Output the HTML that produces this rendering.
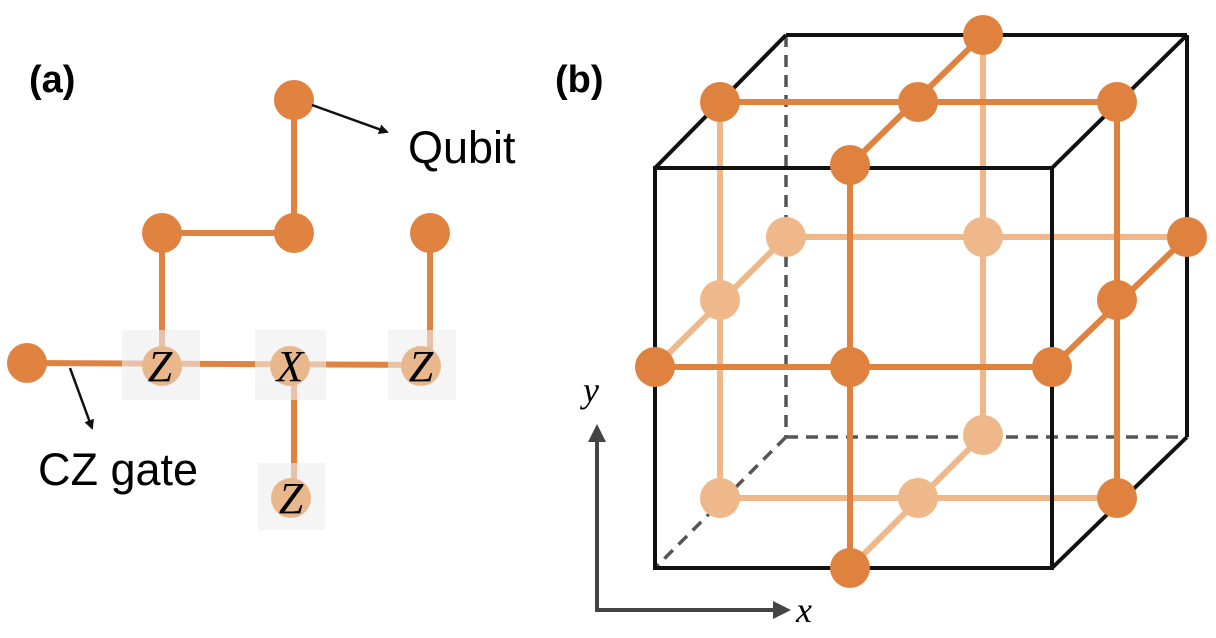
<!DOCTYPE html>
<html><head><meta charset="utf-8"><style>
html,body{margin:0;padding:0;background:#fff;}
svg{display:block;}
text{font-family:"Liberation Sans",sans-serif;}
.m{font-family:"Liberation Serif",serif;font-style:italic;}
</style></head><body>
<svg width="1216" height="638" viewBox="0 0 1216 638">
<defs>
<marker id="ah" markerWidth="10" markerHeight="10" refX="8" refY="5" orient="auto" markerUnits="userSpaceOnUse"><path d="M0,0 L10,5 L0,10 z" fill="#111"/></marker>
<marker id="ag" markerWidth="18" markerHeight="18" refX="14" refY="9" orient="auto" markerUnits="userSpaceOnUse"><path d="M0,0 L18,9 L0,18 z" fill="#444"/></marker>
</defs>
<g>
<text x="29" y="92" font-size="38" font-weight="bold">(a)</text>
<g stroke="#E08240" stroke-width="6" fill="none">
<line x1="294" y1="100" x2="294" y2="233"/>
<line x1="162" y1="233" x2="294" y2="233"/>
<line x1="162" y1="233" x2="162" y2="365"/>
<line x1="430" y1="233" x2="430" y2="365"/>
<line x1="27" y1="363" x2="427" y2="365"/>
<line x1="294" y1="365" x2="294" y2="490"/>
</g>
<g fill="#EEEEEE" opacity="0.6">
<rect x="122" y="330" width="78" height="70"/>
<rect x="255" y="330" width="71" height="70"/>
<rect x="388" y="330" width="68" height="70"/>
<rect x="258" y="463" width="67" height="67"/>
</g>
<g fill="#E08240">
<circle cx="294" cy="100" r="20"/><circle cx="294" cy="233" r="20"/>
<circle cx="162" cy="233" r="20"/><circle cx="430" cy="233" r="20"/>
<circle cx="27" cy="363" r="20"/>
</g>
<g fill="#E8B88C">
<circle cx="162" cy="366" r="20"/><circle cx="290" cy="366" r="20"/>
<circle cx="421" cy="366" r="20"/><circle cx="291" cy="498" r="20"/>
</g>
<g font-size="44" text-anchor="middle" fill="#000">
<text class="m" x="160" y="381">Z</text>
<text class="m" x="290" y="381">X</text>
<text class="m" x="421" y="381">Z</text>
<text class="m" x="291" y="513">Z</text>
</g>
<line x1="312" y1="105" x2="387" y2="132" stroke="#111" stroke-width="2.5" marker-end="url(#ah)"/>
<text x="408" y="163" font-size="45">Qubit</text>
<line x1="70" y1="368" x2="92" y2="428" stroke="#111" stroke-width="2.5" marker-end="url(#ah)"/>
<text x="38" y="485" font-size="45">CZ gate</text>
</g>
<g>
<text x="555" y="92" font-size="38" font-weight="bold">(b)</text>
<g stroke="#555" stroke-width="3.5" stroke-dasharray="12,8">
<line x1="786" y1="35" x2="786" y2="437"/>
<line x1="786" y1="437" x2="1187" y2="437"/>
<line x1="786" y1="437" x2="655" y2="568"/>
</g>
<g stroke="#EEB88A" stroke-width="6">
<line x1="786" y1="237" x2="1187" y2="237"/>
<line x1="786" y1="237" x2="655" y2="367"/>
<line x1="983" y1="35" x2="983" y2="435"/>
<line x1="720" y1="102" x2="720" y2="498"/>
<line x1="720" y1="498" x2="1117" y2="498"/>
<line x1="983" y1="435" x2="850" y2="568"/>
</g>
<g fill="#EEB88A">
<circle cx="786" cy="237" r="20"/><circle cx="983" cy="237" r="20"/>
<circle cx="720" cy="300" r="20"/><circle cx="983" cy="435" r="20"/>
<circle cx="720" cy="498" r="20"/><circle cx="918" cy="498" r="20"/>
</g>
<g stroke="#111" stroke-width="4" fill="none">
<rect x="655" y="168" width="397" height="400"/>
<line x1="786" y1="35" x2="1187" y2="35"/>
<line x1="1187" y1="35" x2="1187" y2="437"/>
<line x1="655" y1="168" x2="786" y2="35"/>
<line x1="1052" y1="168" x2="1187" y2="35"/>
<line x1="1052" y1="568" x2="1187" y2="437"/>
</g>
<g stroke="#E0823F" stroke-width="6">
<line x1="720" y1="102" x2="1117" y2="102"/>
<line x1="983" y1="35" x2="850" y2="165"/>
<line x1="655" y1="367" x2="1052" y2="367"/>
<line x1="1187" y1="237" x2="1052" y2="367"/>
<line x1="850" y1="165" x2="850" y2="568"/>
<line x1="1117" y1="102" x2="1117" y2="498"/>
</g>
<g fill="#E0823F">
<circle cx="983" cy="35" r="20"/><circle cx="918" cy="102" r="20"/>
<circle cx="850" cy="165" r="20"/><circle cx="720" cy="102" r="20"/>
<circle cx="1117" cy="102" r="20"/><circle cx="1187" cy="237" r="20"/>
<circle cx="1117" cy="300" r="20"/><circle cx="1052" cy="367" r="20"/>
<circle cx="655" cy="367" r="20"/><circle cx="850" cy="367" r="20"/>
<circle cx="850" cy="568" r="20"/><circle cx="1117" cy="498" r="20"/>
</g>
<line x1="597" y1="612" x2="597" y2="428" stroke="#444" stroke-width="4" marker-end="url(#ag)"/>
<line x1="595" y1="610" x2="787" y2="610" stroke="#444" stroke-width="4" marker-end="url(#ag)"/>
<text class="m" x="583" y="402" font-size="36">y</text>
<text class="m" x="796" y="622" font-size="36">x</text>
</g>
</svg>
</body></html>
